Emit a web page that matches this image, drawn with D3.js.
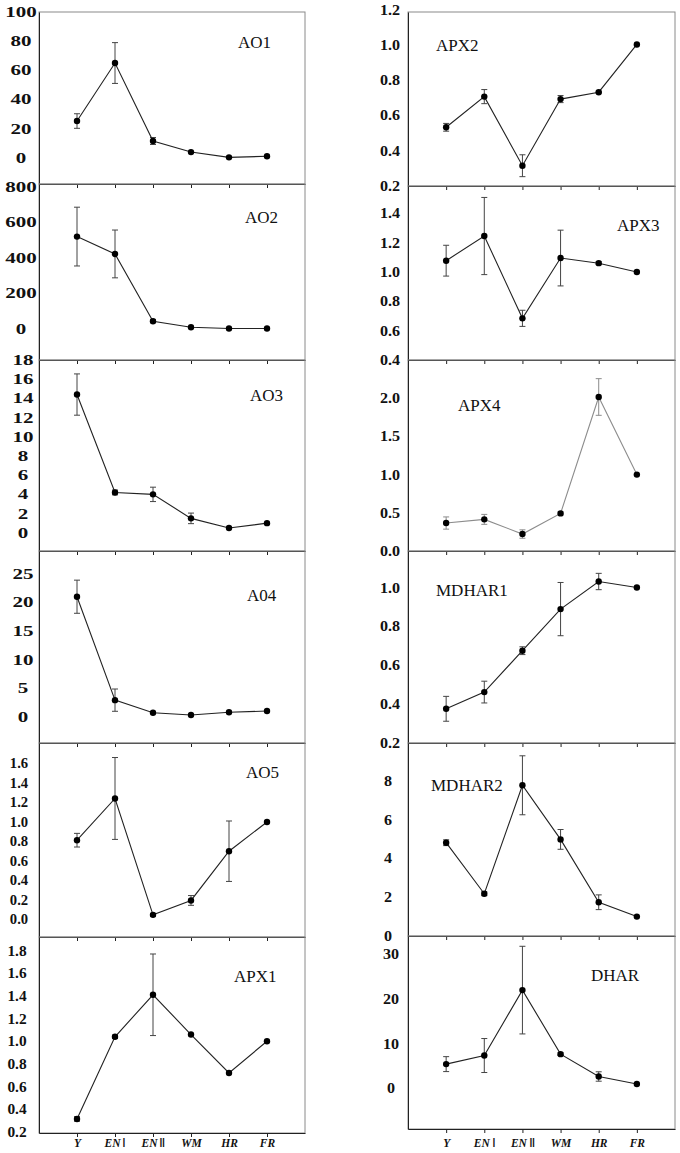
<!DOCTYPE html>
<html>
<head>
<meta charset="utf-8">
<script src="https://cdn.jsdelivr.net/npm/d3@7"></script>
<style>
  body { margin: 0; background: #fff; }
  .tick text { font-family: "Liberation Serif", "Times New Roman", serif; font-weight: bold; }
</style>
</head>
<body>
<div id="chart"></div>
<script>
// Stades (axe des x)
const stages = ["Y", "EN Ⅰ", "EN Ⅱ", "WM", "HR", "FR"];

// Valeurs : moyenne, erreur, étendue visible de l'axe y, graduations
const ao1Mean = [25.2, 65, 11.5, 3.9, 0.3, 1.0];
const ao1Err = [5, 14, 2.4, 0, 0, 0];
const ao1Ext = [-18, 100];
const ao1Ticks = [0, 20, 40, 60, 80, 100];

const ao2Mean = [520, 422, 42, 8, 0.5, 1];
const ao2Err = [166, 135, 8, 0, 0, 0];
const ao2Ext = [-177, 817];
const ao2Ticks = [0, 200, 400, 600, 800];

const ao3Mean = [14.4, 4.2, 4.0, 1.5, 0.49, 1.0];
const ao3Err = [2.15, 0.25, 0.75, 0.55, 0, 0];
const ao3Ext = [-1.9, 18];
const ao3Ticks = [0, 2, 4, 6, 8, 10, 12, 14, 16, 18];

const ao4Mean = [21.0, 2.9, 0.7, 0.3, 0.77, 1.0];
const ao4Err = [2.9, 1.95, 0, 0, 0, 0];
const ao4Ext = [-4.6, 29];
const ao4Ticks = [0, 5, 10, 15, 20, 25];

const ao5Mean = [0.813, 1.241, 0.047, 0.195, 0.70, 1.0];
const ao5Err = [0.07, 0.42, 0.015, 0.05, 0.31, 0];
const ao5Ext = [-0.18, 1.81];
const ao5Ticks = [0, 0.2, 0.4, 0.6, 0.8, 1.0, 1.2, 1.4, 1.6];

const apx1Mean = [0.314, 1.039, 1.41, 1.059, 0.72, 1.0];
const apx1Err = [0.02, 0.015, 0.36, 0, 0, 0];
const apx1Ext = [0.19, 1.92];
const apx1Ticks = [0.2, 0.4, 0.6, 0.8, 1.0, 1.2, 1.4, 1.6, 1.8];

const apx2Mean = [0.533, 0.707, 0.315, 0.693, 0.732, 1.003];
const apx2Err = [0.022, 0.04, 0.062, 0.02, 0.005, 0];
const apx2Ext = [0.2, 1.187];
const apx2Ticks = [0.2, 0.4, 0.6, 0.8, 1.0, 1.2];

const apx3Mean = [1.077, 1.245, 0.684, 1.095, 1.06, 1.0];
const apx3Err = [0.105, 0.263, 0.055, 0.19, 0.01, 0];
const apx3Ext = [0.4, 1.586];
const apx3Ticks = [0.4, 0.6, 0.8, 1.0, 1.2, 1.4];

const apx4Mean = [0.366, 0.414, 0.222, 0.492, 2.016, 1.0];
const apx4Err = [0.08, 0.065, 0.055, 0.02, 0.24, 0];
const apx4Ext = [0, 2.5];
const apx4Ticks = [0, 0.5, 1.0, 1.5, 2.0];

const mdhar1Mean = [0.376, 0.462, 0.675, 0.889, 1.031, 1.0];
const mdhar1Err = [0.064, 0.056, 0.02, 0.137, 0.042, 0];
const mdhar1Ext = [0.2, 1.188];
const mdhar1Ticks = [0.2, 0.4, 0.6, 0.8, 1.0];

const mdhar2Mean = [4.81, 2.18, 7.77, 4.98, 1.74, 1.0];
const mdhar2Err = [0.15, 0.1, 1.52, 0.51, 0.38, 0];
const mdhar2Ext = [0, 9.95];
const mdhar2Ticks = [0, 2, 4, 6, 8];

const dharMean = [5.45, 7.37, 22.0, 7.68, 2.68, 1.0];
const dharErr = [1.67, 3.8, 9.8, 0.3, 1.05, 0];
const dharExt = [-9.06, 34.1];
const dharTicks = [0, 10, 20, 30];

// Mise en page : colonnes et rangées (pixels)
const cols = [{ left: 39, right: 305 }, { left: 408, right: 675 }];
const rowsLeft = [12, 184, 360, 551, 743, 937, 1133];
const rowsRight = [12, 186, 360, 551, 743, 936, 1129];
const xLabelBaseline = 1147;

const fmtInt = d3.format("d");
const fmt1 = d3.format(".1f");

// tx : centre des étiquettes y, sx : étirement horizontal des étiquettes
const panels = [
  { name: "AO1", mean: ao1Mean, err: ao1Err, ext: ao1Ext, ticks: ao1Ticks, fmt: fmtInt, col: 0, row: 0, lx: 238, ly: 48, tx: 21, sx: 1.5 },
  { name: "AO2", mean: ao2Mean, err: ao2Err, ext: ao2Ext, ticks: ao2Ticks, fmt: fmtInt, col: 0, row: 1, lx: 245, ly: 223, tx: 21, sx: 1.5 },
  { name: "AO3", mean: ao3Mean, err: ao3Err, ext: ao3Ext, ticks: ao3Ticks, fmt: fmtInt, col: 0, row: 2, lx: 250, ly: 401, tx: 23, sx: 1.5 },
  { name: "A04", mean: ao4Mean, err: ao4Err, ext: ao4Ext, ticks: ao4Ticks, fmt: fmtInt, col: 0, row: 3, lx: 247, ly: 601, tx: 23, sx: 1.5 },
  { name: "AO5", mean: ao5Mean, err: ao5Err, ext: ao5Ext, ticks: ao5Ticks, fmt: fmt1, col: 0, row: 4, lx: 246, ly: 778, tx: 19, sx: 1.05 },
  { name: "APX1", mean: apx1Mean, err: apx1Err, ext: apx1Ext, ticks: apx1Ticks, fmt: fmt1, col: 0, row: 5, lx: 234, ly: 982, tx: 17, sx: 1.1 },
  { name: "APX2", mean: apx2Mean, err: apx2Err, ext: apx2Ext, ticks: apx2Ticks, fmt: fmt1, col: 1, row: 0, lx: 436, ly: 51, tx: 390, sx: 1.15 },
  { name: "APX3", mean: apx3Mean, err: apx3Err, ext: apx3Ext, ticks: apx3Ticks, fmt: fmt1, col: 1, row: 1, lx: 617, ly: 231, tx: 390, sx: 1.15 },
  { name: "APX4", mean: apx4Mean, err: apx4Err, ext: apx4Ext, ticks: apx4Ticks, fmt: fmt1, col: 1, row: 2, lx: 458, ly: 411, tx: 390, sx: 1.15, grey: true },
  { name: "MDHAR1", mean: mdhar1Mean, err: mdhar1Err, ext: mdhar1Ext, ticks: mdhar1Ticks, fmt: fmt1, col: 1, row: 3, lx: 436, ly: 596, tx: 390, sx: 1.15 },
  { name: "MDHAR2", mean: mdhar2Mean, err: mdhar2Err, ext: mdhar2Ext, ticks: mdhar2Ticks, fmt: fmtInt, col: 1, row: 4, lx: 431, ly: 791, tx: 388, sx: 1.15 },
  { name: "DHAR", mean: dharMean, err: dharErr, ext: dharExt, ticks: dharTicks, fmt: fmtInt, col: 1, row: 5, lx: 591, ly: 981, tx: 391, sx: 1.15 }
];

let svg = d3.select("#chart")
            .append("svg")
            .attr("width", 680)
            .attr("height", 1153)
            .style("display", "block");

panels.forEach(p => {
  let c = cols[p.col];
  let rows = p.col === 0 ? rowsLeft : rowsRight;
  let top = rows[p.row], bottom = rows[p.row + 1];

  let xScale = d3.scalePoint()
                 .domain(stages)
                 .range([c.left, c.right])
                 .padding(1);

  let yScale = d3.scaleLinear()
                 .domain(p.ext)
                 .range([bottom, top]);

  let g = svg.append("g").attr("class", "panel");

  // cadre
  g.append("rect")
   .attr("x", c.left)
   .attr("y", top)
   .attr("width", c.right - c.left)
   .attr("height", bottom - top)
   .attr("fill", "none")
   .attr("stroke", "#8a8a8a")
   .attr("stroke-width", 1);

  // axe y (sans graduations), étiquettes centrées et élargies
  let yAxis = g.append("g")
               .attr("transform", `translate(${c.left},0)`)
               .call(d3.axisLeft(yScale)
                       .tickValues(p.ticks)
                       .tickFormat(p.fmt)
                       .tickSize(0)
                       .tickPadding(4));
  yAxis.select(".domain").attr("stroke", "#222");
  yAxis.selectAll(".tick text")
       .attr("font-size", 14)
       .attr("fill", "#111")
       .attr("text-anchor", "middle")
       .attr("x", 0)
       .attr("transform", `translate(${p.tx - c.left},0) scale(${p.sx},1)`);

  // axe x : petites graduations vers le bas
  let isLast = p.row === 5;
  let xAxis = g.append("g")
               .attr("transform", `translate(0,${bottom})`)
               .call(d3.axisBottom(xScale)
                       .tickSizeInner(4)
                       .tickSizeOuter(0)
                       .tickPadding(6)
                       .tickFormat(isLast ? null : () => ""));
  xAxis.select(".domain").attr("stroke", "#222");
  xAxis.selectAll(".tick line").attr("stroke", "#222");

  if (isLast) {
    xAxis.selectAll(".tick text").each(function(d) {
      let t = d3.select(this).text("");
      let parts = d.split(" ");
      t.attr("font-size", 11.5)
       .attr("fill", "#111")
       .attr("dy", 0)
       .attr("y", xLabelBaseline - bottom);
      t.append("tspan").attr("font-style", "italic").text(parts[0]);
      if (parts[1]) {
        t.append("tspan").attr("font-weight", "normal").attr("font-size", 13).attr("dx", 2).text(parts[1]);
      }
    });
  }

  let lineColor = p.grey ? "#8c8c8c" : "#222";
  let errColor = p.grey ? "#8c8c8c" : "#444";
  let pts = stages.map((s, i) => ({ s: s, v: p.mean[i], e: p.err[i] }));

  // barres d'erreur
  let eg = g.append("g").attr("class", "errors");
  pts.filter(d => d.e > 0).forEach(d => {
    let x = xScale(d.s);
    eg.append("line")
      .attr("x1", x).attr("x2", x)
      .attr("y1", yScale(d.v - d.e)).attr("y2", yScale(d.v + d.e))
      .attr("stroke", errColor).attr("stroke-width", 1);
    [d.v - d.e, d.v + d.e].forEach(v => {
      eg.append("line")
        .attr("x1", x - 3).attr("x2", x + 3)
        .attr("y1", yScale(v)).attr("y2", yScale(v))
        .attr("stroke", errColor).attr("stroke-width", 1);
    });
  });

  // courbe
  g.append("path")
   .datum(pts)
   .attr("fill", "none")
   .attr("stroke", lineColor)
   .attr("stroke-width", 1.1)
   .attr("d", d3.line().x(d => xScale(d.s)).y(d => yScale(d.v)));

  // points
  g.selectAll("circle.dot")
   .data(pts)
   .enter()
   .append("circle")
   .attr("class", "dot")
   .attr("cx", d => xScale(d.s))
   .attr("cy", d => yScale(d.v))
   .attr("r", 3.2)
   .attr("fill", "#000");

  // nom du gène
  g.append("text")
   .attr("x", p.lx)
   .attr("y", p.ly)
   .attr("font-family", "'Liberation Serif', 'Times New Roman', serif")
   .attr("font-size", 17)
   .attr("fill", "#111")
   .text(p.name);
});
</script>
</body>
</html>
